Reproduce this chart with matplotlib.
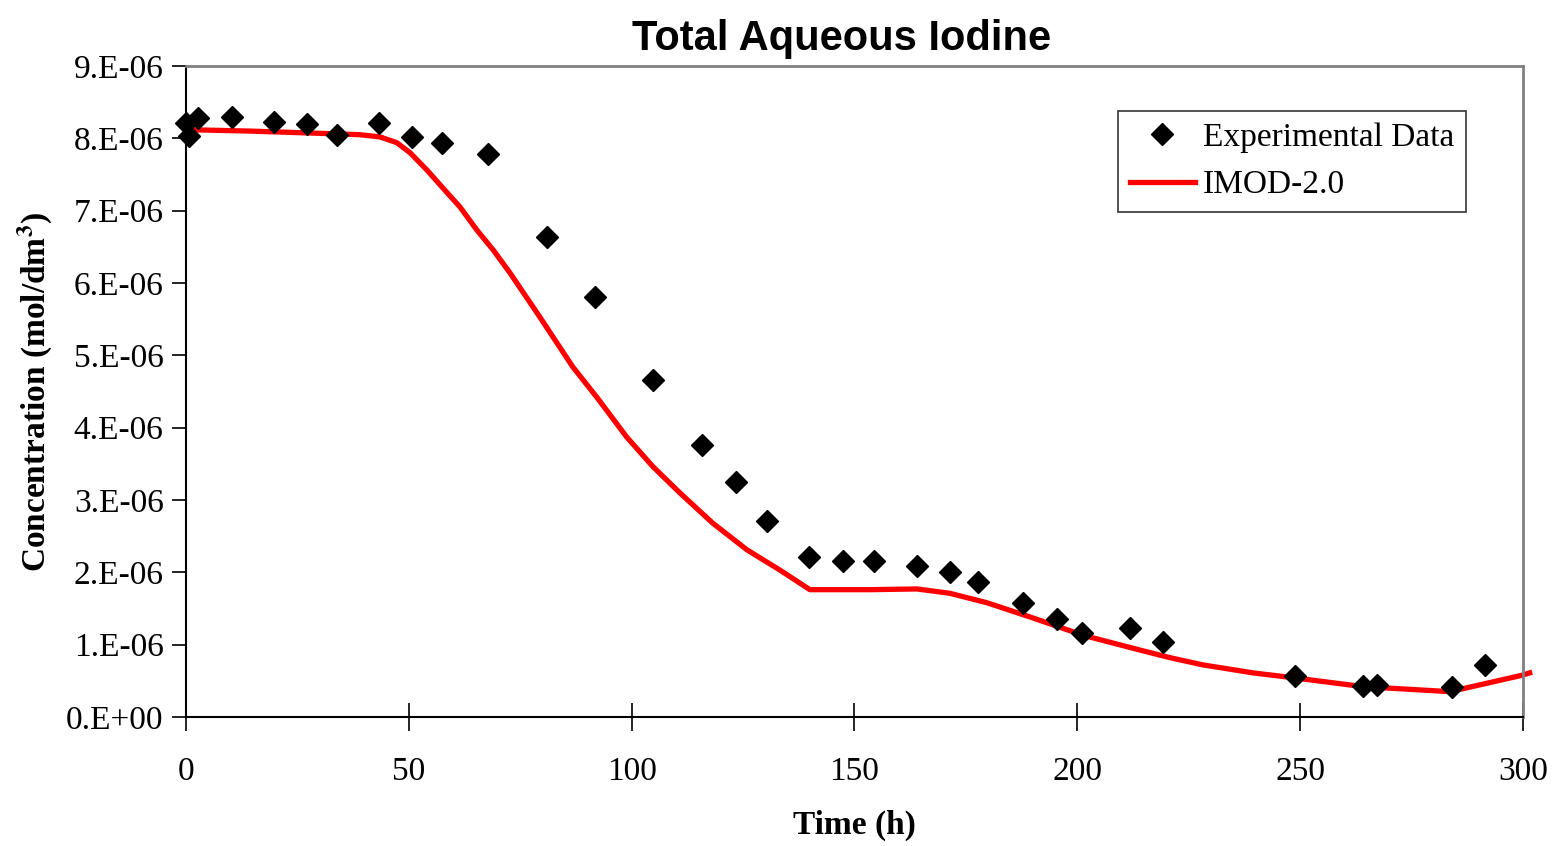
import matplotlib
matplotlib.use('Agg')
import matplotlib.pyplot as plt
from matplotlib.ticker import FuncFormatter
import numpy as np

# experimental data, time (h) and concentration (mol/dm3)
exp_time = [0.0, 0.7, 2.7, 10.3, 19.7, 27.1, 33.9, 43.3, 50.7, 57.4, 67.8,
            81.0, 91.8, 104.8, 115.8, 123.4, 130.4, 139.8, 147.4, 154.4,
            164.0, 171.4, 177.7, 187.8, 195.4, 201.0, 211.8, 219.2, 248.8,
            264.1, 267.2, 284.0, 291.4]
exp_conc = [8.21, 8.03, 8.28, 8.30, 8.23, 8.20, 8.05, 8.21, 8.02, 7.94, 7.78,
            6.63, 5.81, 4.66, 3.76, 3.25, 2.71, 2.21, 2.16, 2.16,
            2.09, 2.00, 1.87, 1.58, 1.35, 1.16, 1.23, 1.04, 0.57,
            0.43, 0.44, 0.41, 0.72]

# IMOD-2.0 model curve
mod_time = [0.0, 14.4, 34.5, 39.0, 43.5, 47.3, 50.3, 54.1, 57.7, 61.5, 65.3,
            68.9, 72.7, 79.4, 86.8, 92.2, 98.9, 104.8, 110.8, 118.2, 125.9,
            133.3, 140.0, 153.5, 164.0, 171.4, 179.7, 190.0, 201.3, 212.5,
            220.8, 228.2, 239.4, 248.8, 264.1, 283.6, 300.0, 301.5]
mod_conc = [8.12, 8.10, 8.06, 8.05, 8.02, 7.94, 7.80, 7.56, 7.31, 7.05, 6.73,
            6.46, 6.14, 5.53, 4.84, 4.42, 3.87, 3.46, 3.10, 2.68, 2.31,
            2.03, 1.76, 1.76, 1.77, 1.71, 1.58, 1.37, 1.13, 0.95,
            0.82, 0.72, 0.61, 0.54, 0.42, 0.35, 0.58, 0.61]

exp_conc = np.array(exp_conc) * 1e-6
mod_conc = np.array(mod_conc) * 1e-6

serif = ['Liberation Serif', 'DejaVu Serif']
plt.rcParams['font.family'] = serif
plt.rcParams['mathtext.fontset'] = 'stix'

fig = plt.figure(figsize=(15.52, 8.46), dpi=100)
ax = fig.add_axes([0.1198, 0.1525, 0.8615, 0.7695])

ax.plot(exp_time, exp_conc, 'D', color='black', ms=11, label='Experimental Data',
        clip_on=False, zorder=3)
ax.plot(mod_time, mod_conc, color='#ff0000', lw=3.8, label='IMOD-2.0',
        clip_on=False, zorder=2, solid_joinstyle='round')

ax.set_xlim(0, 300)
ax.set_ylim(0, 9e-6)
ax.set_xticks(np.arange(0, 301, 50))
ax.set_yticks(np.arange(0, 9.01e-6, 1e-6))


def fmt(v, pos):
    n = int(round(v / 1e-6))
    if n == 0:
        return '0.E+00'
    return '%d.E-06' % n


ax.yaxis.set_major_formatter(FuncFormatter(fmt))
ax.tick_params(axis='both', labelsize=24, width=1.2)
ax.tick_params(axis='x', direction='inout', length=20, pad=18.5)
ax.tick_params(axis='y', direction='out', length=10, pad=6)

for s in ['left', 'bottom']:
    ax.spines[s].set_color('black')
    ax.spines[s].set_linewidth(1.5)
for s in ['top', 'right']:
    ax.spines[s].set_color('#808080')
    ax.spines[s].set_linewidth(2)

ax.set_xlabel('Time (h)', fontsize=24, fontweight='bold', labelpad=16)
ax.set_ylabel(r'Concentration (mol/dm$^{\mathbf{3}}$)', fontsize=24,
              fontweight='bold', labelpad=8)
fig.text(0.5425, 1 - 50 / 846, 'Total Aqueous Iodine', fontsize=30,
         fontweight='bold', ha='center', va='baseline',
         family=['Liberation Sans Narrow', 'Liberation Sans', 'DejaVu Sans'])

leg = ax.legend(loc='upper right', bbox_to_anchor=(0.9574, 0.9309), fontsize=24,
                frameon=True, fancybox=False, edgecolor='black',
                handlelength=1.95, borderpad=0.35, labelspacing=0.5,
                handletextpad=0.25, borderaxespad=0)
leg.get_frame().set_linewidth(1.2)

fig.savefig('out.png', dpi=100)
